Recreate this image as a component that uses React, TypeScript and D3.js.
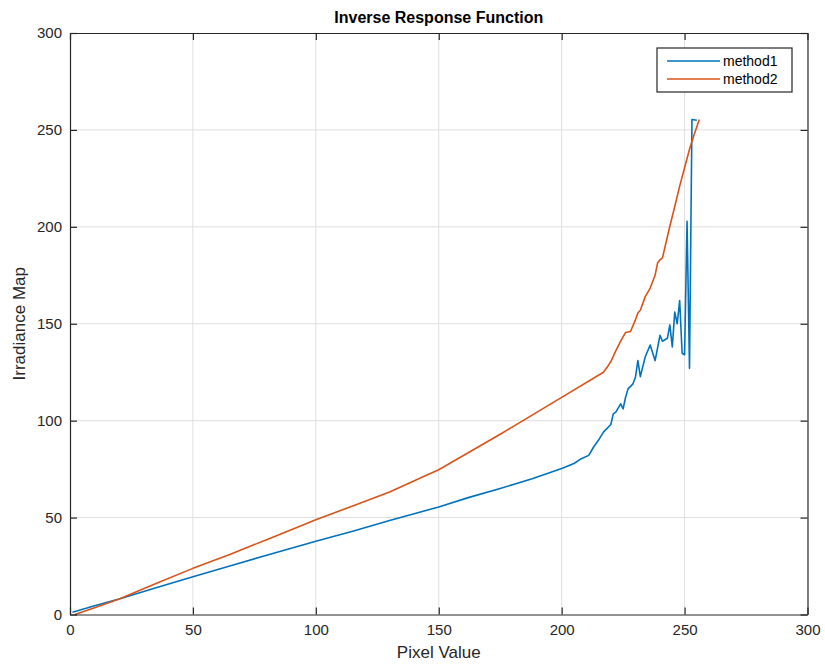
import React, { useEffect, useRef } from 'react';
import * as d3 from 'd3';

// values
const method1X = [1, 10, 20, 35, 50, 65, 80, 100, 115, 130, 140, 150, 162, 175, 188, 200, 205, 208, 211, 213, 215, 217, 220, 221, 222, 224, 225, 226, 227, 229, 230, 231, 232, 234, 236, 237, 238, 240, 241, 243, 244, 245, 246, 247, 248, 249, 250, 251, 252, 253, 255];
const method1Y = [1.2, 4.5, 8, 13.8, 19.5, 25, 30.6, 37.8, 43, 48.5, 52, 55.5, 60.3, 65, 70, 75.3, 77.9, 80.4, 82.1, 86.4, 90, 94.1, 98, 103.5, 104.4, 108.7, 106.1, 112.1, 116.4, 119, 122.4, 131, 122.7, 133, 139, 135, 131, 144, 141, 142.5, 149.4, 138, 156, 150, 162, 134.8, 134, 202.8, 127, 255.4, 255];

const method2X = [2, 10, 20, 35, 50, 65, 80, 100, 115, 130, 145, 150, 175, 200, 217, 219, 220, 222, 224, 226, 228, 230, 231, 232, 234, 236, 238, 239, 240, 241, 244, 246, 248, 250, 252, 254, 256];
const method2Y = [0, 3.5, 8, 16, 23.8, 31, 38.6, 48.9, 56, 63.2, 71.8, 74.7, 93, 112, 125, 128.5, 130.5, 136, 141, 145.5, 146, 152, 155.5, 157, 164, 168.4, 175, 181.3, 183, 184, 200.3, 210.5, 221, 230.5, 240, 248, 255.4];

const seriesNames = ['method1', 'method2'];
const seriesColors = ['#0072BD', '#D95319'];
const xTicks = [0, 50, 100, 150, 200, 250, 300];
const yTicks = [0, 50, 100, 150, 200, 250, 300];

const App = () => {
    const ref = useRef<SVGSVGElement>(null);

    useEffect(() => {
        const width = 825;
        const height = 667;
        const margin = { top: 33, right: 17.5, bottom: 52.5, left: 70 };
        const innerW = width - margin.left - margin.right;
        const innerH = height - margin.top - margin.bottom;
        const font = 'Liberation Sans, Arial, Helvetica, sans-serif';
        const axisColor = '#262626';

        const svg = d3.select(ref.current);
        svg.selectAll('*').remove();

        const g = svg.append('g')
            .attr('transform', `translate(${margin.left}, ${margin.top})`);

        const xScale = d3.scaleLinear().domain([0, 300]).range([0, innerW]);
        const yScale = d3.scaleLinear().domain([0, 300]).range([innerH, 0]);

        // grid
        g.append('g').selectAll('line')
            .data(xTicks.slice(1, -1))
            .enter().append('line')
            .attr('x1', d => xScale(d)).attr('x2', d => xScale(d))
            .attr('y1', 0).attr('y2', innerH)
            .attr('stroke', '#dfdfdf').attr('stroke-width', 1);
        g.append('g').selectAll('line')
            .data(yTicks.slice(1, -1))
            .enter().append('line')
            .attr('y1', d => yScale(d)).attr('y2', d => yScale(d))
            .attr('x1', 0).attr('x2', innerW)
            .attr('stroke', '#dfdfdf').attr('stroke-width', 1);

        // lines
        const data = [
            method1X.map((x, i) => [x, method1Y[i]]),
            method2X.map((x, i) => [x, method2Y[i]])
        ];
        const line = d3.line<number[]>()
            .x(d => xScale(d[0]))
            .y(d => yScale(d[1]));

        g.selectAll('.linePath')
            .data(data)
            .enter().append('path')
            .attr('class', 'linePath')
            .attr('d', d => line(d))
            .attr('fill', 'none')
            .attr('stroke', (d, i) => seriesColors[i])
            .attr('stroke-width', 1.6)
            .attr('stroke-linejoin', 'round');

        // axes, matlab style box with inner ticks
        const tickLen = 7;
        const xAxisB = d3.axisBottom(xScale).tickValues(xTicks).tickSizeInner(-tickLen).tickSizeOuter(0).tickPadding(10);
        const xAxisT = d3.axisTop(xScale).tickValues(xTicks).tickSizeInner(-tickLen).tickSizeOuter(0).tickFormat(() => '');
        const yAxisL = d3.axisLeft(yScale).tickValues(yTicks).tickSizeInner(-tickLen).tickSizeOuter(0).tickPadding(8);
        const yAxisR = d3.axisRight(yScale).tickValues(yTicks).tickSizeInner(-tickLen).tickSizeOuter(0).tickFormat(() => '');

        const gx = g.append('g').attr('transform', `translate(0, ${innerH})`).call(xAxisB);
        g.append('g').call(xAxisT);
        const gy = g.append('g').call(yAxisL);
        g.append('g').attr('transform', `translate(${innerW}, 0)`).call(yAxisR);

        g.selectAll('.domain').attr('stroke', axisColor).attr('stroke-width', 1.2);
        g.selectAll('.tick line').attr('stroke', axisColor).attr('stroke-width', 1.2);
        gx.selectAll('text').attr('font-size', 15).attr('font-family', font).attr('fill', axisColor);
        gy.selectAll('text').attr('font-size', 15).attr('font-family', font).attr('fill', axisColor);

        // labels
        svg.append('text')
            .attr('x', margin.left + innerW / 2)
            .attr('y', 658)
            .attr('text-anchor', 'middle')
            .attr('font-size', 17)
            .attr('font-family', font)
            .attr('fill', axisColor)
            .text('Pixel Value');

        svg.append('text')
            .attr('transform', `translate(25, ${margin.top + innerH / 2}) rotate(-90)`)
            .attr('text-anchor', 'middle')
            .attr('font-size', 17)
            .attr('font-family', font)
            .attr('fill', axisColor)
            .text('Irradiance Map');

        svg.append('text')
            .attr('x', margin.left + innerW / 2)
            .attr('y', 23)
            .attr('text-anchor', 'middle')
            .attr('font-size', 16)
            .attr('font-weight', 'bold')
            .attr('font-family', font)
            .attr('fill', '#000')
            .text('Inverse Response Function');

        // legend
        const legend = svg.append('g').attr('transform', 'translate(657, 48)');
        legend.append('rect')
            .attr('width', 135).attr('height', 44)
            .attr('fill', '#fff')
            .attr('stroke', axisColor).attr('stroke-width', 1.2);
        legend.selectAll('.legendLine')
            .data(seriesNames)
            .enter().append('line')
            .attr('class', 'legendLine')
            .attr('x1', 10).attr('x2', 63)
            .attr('y1', (d, i) => 13 + i * 18).attr('y2', (d, i) => 13 + i * 18)
            .attr('stroke', (d, i) => seriesColors[i])
            .attr('stroke-width', 1.6);
        legend.selectAll('.legendText')
            .data(seriesNames)
            .enter().append('text')
            .attr('class', 'legendText')
            .attr('x', 66)
            .attr('y', (d, i) => 13 + i * 18)
            .attr('dy', '0.35em')
            .attr('font-size', 14)
            .attr('font-family', font)
            .attr('fill', '#000')
            .text(d => d);
    }, []);

    return (
        <svg ref={ref} width={825} height={667}
            style={{ position: 'absolute', left: 0, top: 0, background: '#fff' }} />
    );
};

export default App;
